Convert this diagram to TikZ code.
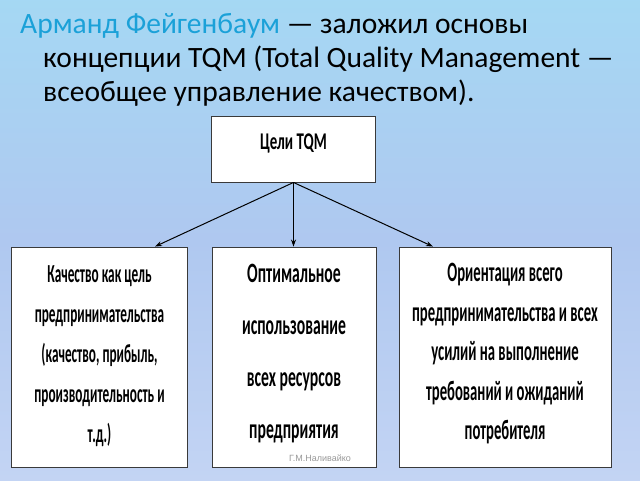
\documentclass[tikz,border=0pt]{standalone}
\usepackage{fontspec}
\setmainfont{Carlito}
\newfontfamily\fontT[FakeStretch=0.62]{Carlito}
\newfontfamily\fontL[FakeStretch=0.51]{Carlito}
\newfontfamily\fontM[FakeStretch=0.56]{Carlito}
\newfontfamily\fontR[FakeStretch=0.525]{Carlito}
\newfontfamily\wmfont{Liberation Sans}
\usetikzlibrary{arrows.meta,calc}
\definecolor{bgtop}{HTML}{9BE8F7}
\definecolor{bgmid}{HTML}{AFC8F0}
\definecolor{bgbot}{HTML}{D7E0F7}
\definecolor{titleblue}{HTML}{1BA1D8}
\definecolor{boxline}{HTML}{3A3A3A}
\pgfdeclareverticalshading{bgshade}{100bp}{color(0bp)=(bgbot); color(50bp)=(bgmid); color(100bp)=(bgtop)}
\tikzset{
  goalbox/.style={draw=boxline, line width=0.9pt, fill=white, inner sep=0pt},
  goaltext/.style={align=center, inner sep=0pt},
  titletext/.style={font=\fontsize{29.5}{29.5}\selectfont, anchor=base west, inner sep=0pt},
  conn/.style={line width=1pt, -{Stealth[length=7pt,width=5pt]}}
}
\begin{document}
\begin{tikzpicture}[x=1pt,y=-1pt]
\useasboundingbox (0,0) rectangle (640,480);
\fill[shading=bgshade] (0,0) rectangle (640,480);
% title
\node[titletext] (t1) at (20,33) {\textcolor{titleblue}{Арманд Фейгенбаум} — заложил основы};
\node[titletext] (t2) at (43,67) {концепции TQM (Total Quality Management —};
\node[titletext] (t3) at (43,101) {всеобщее управление качеством).};
% boxes
\node[goalbox, minimum width=164pt, minimum height=66pt] (T) at (293.5,149) {};
\node[goaltext, font=\fontT\bfseries\fontsize{24}{24}\selectfont] (Tt) at (293.5,143) {Цели TQM};
\node[goalbox, minimum width=176pt, minimum height=220pt] (L) at (99.5,357) {};
\node[goalbox, minimum width=164pt, minimum height=220pt] (M) at (294,357) {};
\node[goalbox, minimum width=212pt, minimum height=220pt] (R) at (505,357) {};
\node[goaltext, font=\fontL\bfseries\fontsize{26}{40}\selectfont] (Lt) at (99.5,356) {Качество как цель\\предпринимательства\\(качество, прибыль,\\производительность и\\т.д.)};
\node[goaltext, font=\fontM\bfseries\fontsize{28}{52}\selectfont] (Mt) at (294,353.5) {Оптимальное\\использование\\всех ресурсов\\предприятия};
\node[goaltext, font=\fontR\bfseries\fontsize{28}{39.5}\selectfont] (Rt) at (505,354) {Ориентация всего\\предпринимательства и всех\\усилий на выполнение\\требований и ожиданий\\потребителя};
% connectors
\draw[conn] (T.south) -- ([xshift=55.5pt]L.north);
\draw[conn] (T.south) -- (T.south |- M.north);
\draw[conn] (T.south) -- ([xshift=-72pt]R.north);
% watermark
\node[font=\wmfont\fontsize{9}{9}\selectfont, text=gray!80, inner sep=0pt] (wm) at (320,458) {Г.М.Наливайко};
\end{tikzpicture}
\end{document}
